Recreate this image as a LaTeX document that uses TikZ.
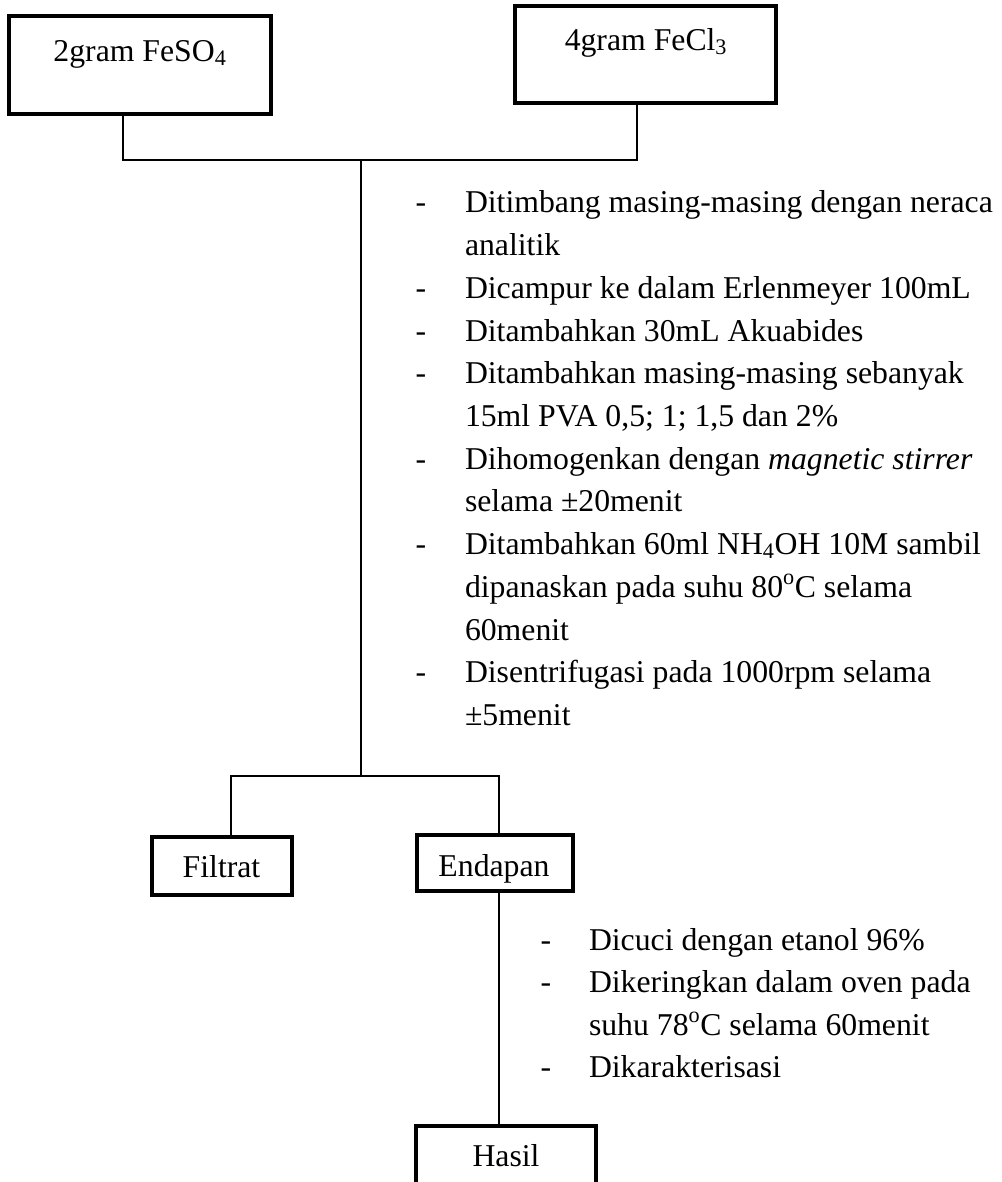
\documentclass[tikz,border=0pt]{standalone}
\usepackage{fontspec}
\setmainfont{Liberation Serif}
\begin{document}
\begin{tikzpicture}[x=0.75pt,y=-0.75pt,
  every node/.style={font=\fontsize{23.8pt}{28pt}\selectfont, inner sep=0pt, outer sep=0pt},
  box/.style={draw, line width=3.2pt, rectangle},
  conn/.style={line width=1pt},
  txt/.style={anchor=base west},
  dashmark/.style={anchor=base}]
\useasboundingbox (0,0) rectangle (1001,1182);
\fill[white] (0,0) rectangle (1001,1182);
% boxes
\node[box, minimum width={262*0.75pt}, minimum height={98*0.75pt}] (b1) at (140,65) {};
\node[box, minimum width={261*0.75pt}, minimum height={97*0.75pt}] (b2) at (645.5,54.5) {};
\node[box, minimum width={140*0.75pt}, minimum height={58*0.75pt}] (filt) at (222,866) {};
\node[box, minimum width={156*0.75pt}, minimum height={56*0.75pt}] (endp) at (495,863) {};
\node[box, minimum width={180*0.75pt}, minimum height={76*0.75pt}] (hasil) at (506,1164) {};
% box texts
\node[anchor=base] (t1) at (140,61) {2gram FeSO\textsubscript{4}};
\node[anchor=base] (t2) at (646,50) {4gram FeCl\textsubscript{3}};
\node[anchor=base] (tf) at (221.5,877) {Filtrat};
\node[anchor=base] (te) at (494,876) {Endapan};
\node[anchor=base] (th) at (506,1166) {Hasil};
% connectors
\coordinate (c1) at (123,160);
\coordinate (c2) at (637,160);
\coordinate (jm) at (361,160);
\coordinate (js) at (361,776);
\coordinate (sl) at (231,776);
\coordinate (sr) at (499,776);
\draw[conn] (c1 |- b1.south) -- (c1) -- (c2) -- (c2 |- b2.south);
\draw[conn] (jm) -- (js);
\draw[conn] (sl |- filt.north) -- (sl) -- (sr) -- (sr |- endp.north);
\draw[conn] (sr |- endp.south) -- (sr |- hasil.north);
% first list
\node[dashmark] (d1) at (421,212) {-};
\node[txt] (l1) at (465,212) {Ditimbang masing-masing dengan neraca};
\node[txt] (l2) at (465,255) {analitik};
\node[dashmark] (d2) at (421,298) {-};
\node[txt] (l3) at (465,298) {Dicampur ke dalam Erlenmeyer 100mL};
\node[dashmark] (d3) at (421,341) {-};
\node[txt] (l4) at (465,341) {Ditambahkan 30mL Akuabides};
\node[dashmark] (d4) at (421,383) {-};
\node[txt] (l5) at (465,383) {Ditambahkan masing-masing sebanyak};
\node[txt] (l6) at (465,426) {15ml PVA 0,5; 1; 1,5 dan 2\%};
\node[dashmark] (d5) at (421,469) {-};
\node[txt] (l7) at (465,469) {Dihomogenkan dengan \textit{magnetic stirrer}};
\node[txt] (l8) at (465,511) {selama ±20menit};
\node[dashmark] (d6) at (421,554) {-};
\node[txt] (l9) at (465,554) {Ditambahkan 60ml NH\textsubscript{4}OH 10M sambil};
\node[txt] (l10) at (465,597) {dipanaskan pada suhu 80\textsuperscript{o}C selama};
\node[txt] (l11) at (465,640) {60menit};
\node[dashmark] (d7) at (421,682) {-};
\node[txt] (l12) at (465,682) {Disentrifugasi pada 1000rpm selama};
\node[txt] (l13) at (465,725) {±5menit};
% second list
\node[dashmark] (e1) at (546,950) {-};
\node[txt] (m1) at (589,950) {Dicuci dengan etanol 96\%};
\node[dashmark] (e2) at (546,992) {-};
\node[txt] (m2) at (589,992) {Dikeringkan dalam oven pada};
\node[txt] (m3) at (589,1035) {suhu 78\textsuperscript{o}C selama 60menit};
\node[dashmark] (e3) at (546,1077) {-};
\node[txt] (m4) at (589,1077) {Dikarakterisasi};
\end{tikzpicture}
\end{document}
